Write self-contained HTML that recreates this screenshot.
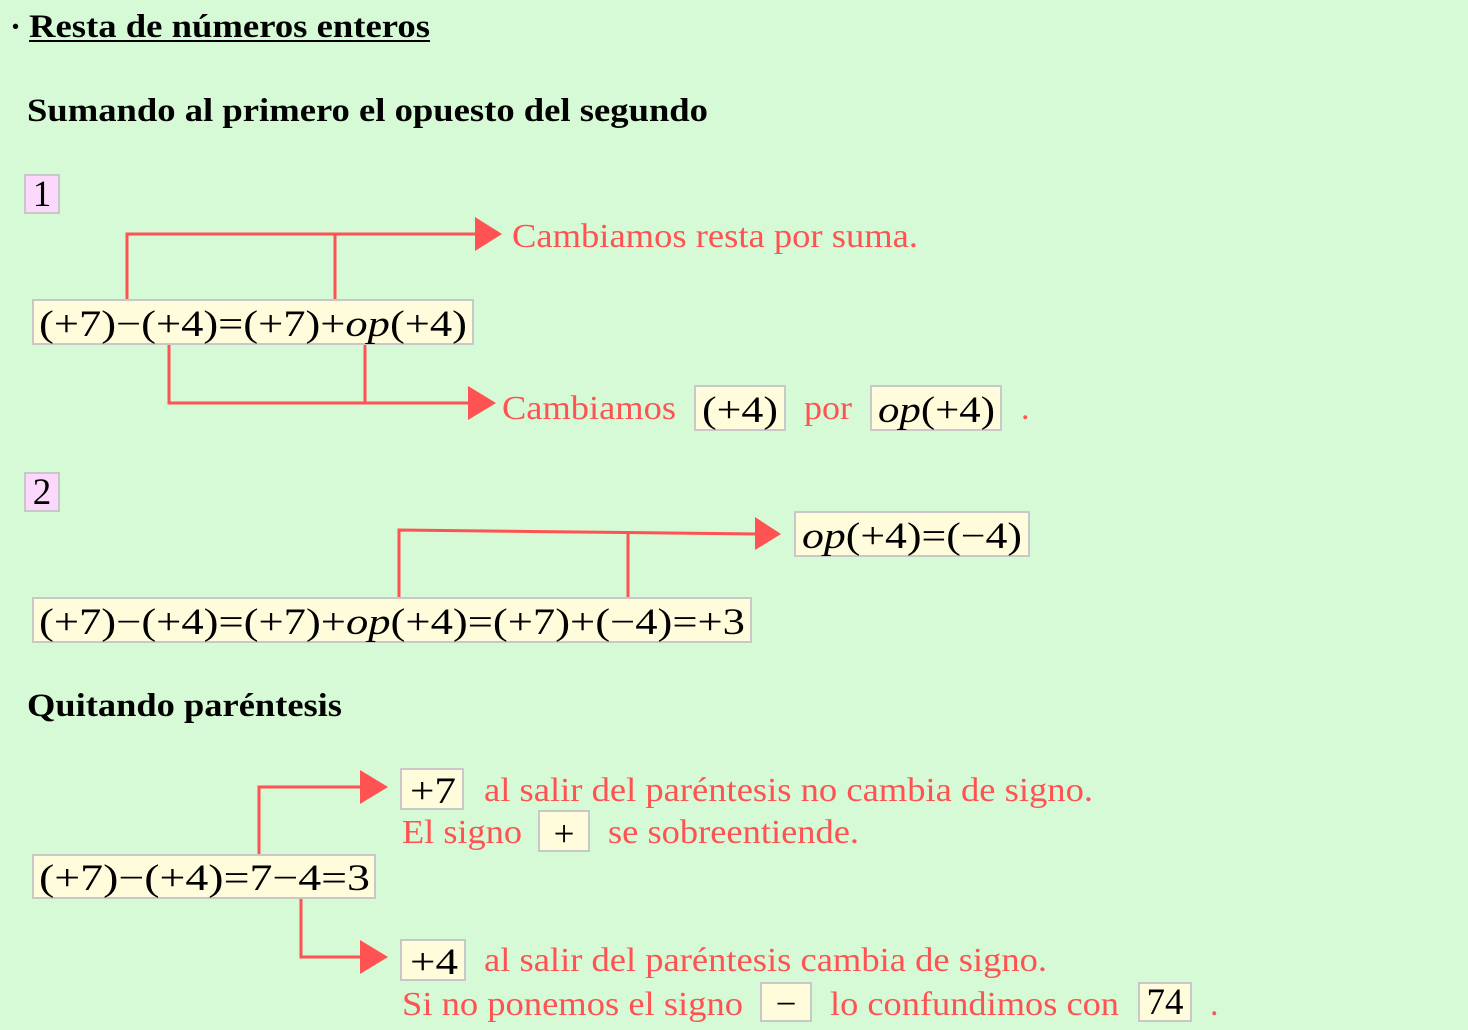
<!DOCTYPE html>
<html><head><meta charset="utf-8"><style>
html,body{margin:0;padding:0;background:#d6fad6;}
svg{display:block}
.t{font-family:"Liberation Serif",serif;}
.r{fill:#ff5252;font-size:34px;}
.m{fill:#000;font-size:37px;}
.b{font-weight:bold;font-size:33px;fill:#000}
.bx{fill:#fffcdc;stroke:#c8c8c8;stroke-width:2}
.pk{fill:#fcd8fc;stroke:#c8c8c8;stroke-width:2}
.ln{stroke:#ff5252;stroke-width:3;fill:none}
.ar{fill:#ff5252}
</style></head><body>
<svg width="1468" height="1030" viewBox="0 0 1468 1030" xmlns="http://www.w3.org/2000/svg" class="t">
<rect width="1468" height="1030" fill="#d6fad6"/>
<text x="10" y="37" class="t b">·</text>
<text x="29" y="37" class="t b" textLength="401" lengthAdjust="spacingAndGlyphs">Resta de números enteros</text>
<line x1="29" y1="41" x2="430" y2="41" stroke="#000" stroke-width="2"/>
<text x="27" y="121" class="t b" textLength="681" lengthAdjust="spacingAndGlyphs">Sumando al primero el opuesto del segundo</text>

<!-- 1 -->
<rect x="25" y="175" width="34" height="38" class="pk"/>
<text x="42" y="206" text-anchor="middle" class="t m" font-size="32">1</text>
<polyline points="127,299 127,234 478,234" class="ln"/>
<line x1="335" y1="234" x2="335" y2="299" class="ln"/>
<polygon points="475,217 502,234 475,251" class="ar"/>
<text x="512" y="247" class="t r" textLength="406" lengthAdjust="spacingAndGlyphs">Cambiamos resta por suma.</text>
<rect x="33" y="300" width="440" height="44" class="bx"/>
<text x="39" y="336" class="t m" textLength="428" lengthAdjust="spacingAndGlyphs">(+7)−(+4)=(+7)+<tspan font-style="italic">op</tspan>(+4)</text>
<polyline points="169,345 169,403 470,403" class="ln"/>
<line x1="365" y1="345" x2="365" y2="403" class="ln"/>
<polygon points="468,386 496,403 468,420" class="ar"/>
<text x="502" y="419" class="t r" textLength="174" lengthAdjust="spacingAndGlyphs">Cambiamos</text>
<rect x="695" y="386" width="90" height="44" class="bx"/>
<text x="702" y="422" class="t m" textLength="76" lengthAdjust="spacingAndGlyphs">(+4)</text>
<text x="804" y="419" class="t r" textLength="48" lengthAdjust="spacingAndGlyphs">por</text>
<rect x="871" y="386" width="130" height="44" class="bx"/>
<text x="878" y="422" class="t m" textLength="117" lengthAdjust="spacingAndGlyphs"><tspan font-style="italic">op</tspan>(+4)</text>
<text x="1021" y="419" class="t r">.</text>

<!-- 2 -->
<rect x="25" y="473" width="34" height="38" class="pk"/>
<text x="42" y="504" text-anchor="middle" class="t m" font-size="32">2</text>
<polyline points="399,597 399,530 758,534" class="ln"/>
<line x1="628" y1="531" x2="628" y2="597" class="ln"/>
<polygon points="755,517 781,534 755,550" class="ar"/>
<rect x="795" y="512" width="234" height="44" class="bx"/>
<text x="802" y="548" class="t m" textLength="220" lengthAdjust="spacingAndGlyphs"><tspan font-style="italic">op</tspan>(+4)=(−4)</text>
<rect x="33" y="598" width="718" height="44" class="bx"/>
<text x="39" y="634" class="t m" textLength="706" lengthAdjust="spacingAndGlyphs">(+7)−(+4)=(+7)+<tspan font-style="italic">op</tspan>(+4)=(+7)+(−4)=+3</text>

<text x="27" y="716" class="t b" textLength="315" lengthAdjust="spacingAndGlyphs">Quitando paréntesis</text>

<!-- 3 -->
<polyline points="259,854 259,787 362,787" class="ln"/>
<polygon points="360,770 388,787 360,804" class="ar"/>
<rect x="401" y="769" width="62" height="40" class="bx"/>
<text x="410" y="803" class="t m" textLength="46" lengthAdjust="spacingAndGlyphs">+7</text>
<text x="484" y="801" class="t r" textLength="609" lengthAdjust="spacingAndGlyphs">al salir del paréntesis no cambia de signo.</text>
<text x="402" y="843" class="t r" textLength="120" lengthAdjust="spacingAndGlyphs">El signo</text>
<rect x="539" y="811" width="50" height="40" class="bx"/>
<text x="564" y="846" text-anchor="middle" class="t m" font-size="42">+</text>
<text x="608" y="843" class="t r" textLength="251" lengthAdjust="spacingAndGlyphs">se sobreentiende.</text>

<rect x="33" y="855" width="342" height="43" class="bx"/>
<text x="39" y="890" class="t m" textLength="331" lengthAdjust="spacingAndGlyphs">(+7)−(+4)=7−4=3</text>

<polyline points="301,899 301,957 362,957" class="ln"/>
<polygon points="360,940 388,957 360,974" class="ar"/>
<rect x="401" y="940" width="64" height="40" class="bx"/>
<text x="410" y="974" class="t m" textLength="48" lengthAdjust="spacingAndGlyphs">+4</text>
<text x="484" y="971" class="t r" textLength="563" lengthAdjust="spacingAndGlyphs">al salir del paréntesis cambia de signo.</text>
<text x="402" y="1015" class="t r" textLength="341" lengthAdjust="spacingAndGlyphs">Si no ponemos el signo</text>
<rect x="761" y="983" width="50" height="38" class="bx"/>
<text x="786" y="1016" text-anchor="middle" class="t m" font-size="42">−</text>
<text x="830" y="1015" class="t r" textLength="289" lengthAdjust="spacingAndGlyphs">lo confundimos con</text>
<rect x="1139" y="983" width="52" height="38" class="bx"/>
<text x="1165" y="1014" text-anchor="middle" class="t m" font-size="35">74</text>
<text x="1210" y="1015" class="t r">.</text>
</svg>
</body></html>
